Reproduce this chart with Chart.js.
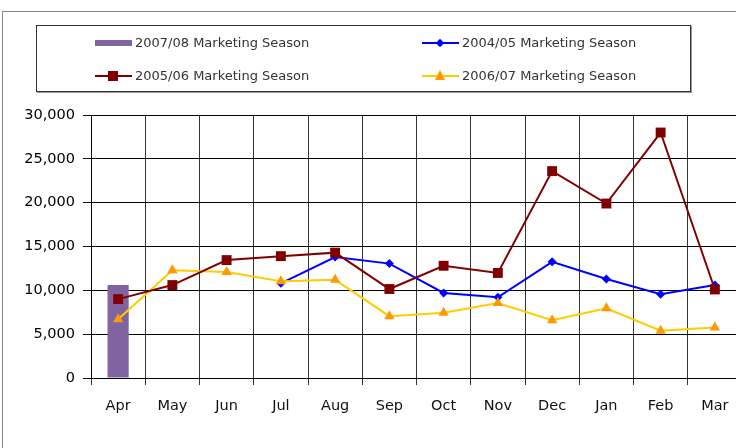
<!DOCTYPE html>
<html>
<head>
<meta charset="utf-8">
<script src="https://cdn.jsdelivr.net/npm/chart.js@4/dist/chart.umd.min.js"></script>
<style>
  html, body { margin: 0; padding: 0; width: 736px; height: 448px; overflow: hidden; background: #fff; }
  #frame { position: absolute; left: 2px; top: 11px; width: 800px; height: 500px; border: 1px solid #888; box-sizing: border-box; }
  #wrap { position: absolute; left: 0; top: 0; width: 760px; height: 448px; }
  #legend { position: absolute; left: 36px; top: 25px; width: 655px; height: 67px; border: 1px solid #333; box-sizing: border-box; box-shadow: 1px 1px 0 #999; background: #fff; font-family: "DejaVu Sans", sans-serif; font-size: 13px; color: #333; }
  .item { position: absolute; height: 16px; line-height: 16px; white-space: nowrap; }
  .sym { position: absolute; left: 0; top: 0; width: 37px; height: 16px; }
  .txt { position: absolute; left: 40px; top: 0; }
  .ln { position: absolute; left: 0; top: 7px; width: 37px; height: 2px; }
</style>
</head>
<body>
<div id="frame"></div>
<div id="wrap"><canvas id="c" width="760" height="448" style="width:760px;height:448px"></canvas></div>
<div id="legend"></div>
<script>
const months = ["Apr","May","Jun","Jul","Aug","Sep","Oct","Nov","Dec","Jan","Feb","Mar"];
const season0708 = [10600, null, null, null, null, null, null, null, null, null, null, null];
const season0405 = [null, null, null, 10800, 13800, 13050, 9700, 9200, 13250, 11300, 9550, 10600];
const season0506 = [9000, 10600, 13450, 13900, 14300, 10150, 12800, 11980, 23600, 19900, 28000, 10100];
const season0607 = [6700, 12300, 12100, 11050, 11200, 7050, 7450, 8550, 6600, 7950, 5400, 5750];
const yTicks = [0, 5000, 10000, 15000, 20000, 25000, 30000];
const seriesNames = ["2007/08 Marketing Season", "2004/05 Marketing Season", "2005/06 Marketing Season", "2006/07 Marketing Season"];

const tickFont = { family: "DejaVu Sans", size: 14.5 };

new Chart(document.getElementById('c'), {
  type: 'bar',
  data: {
    labels: months,
    datasets: [
      { type: 'bar', label: seriesNames[0], data: season0708, backgroundColor: '#8064A2', borderWidth: 0, barPercentage: 0.39, categoryPercentage: 1, order: 3 },
      { type: 'line', label: seriesNames[1], data: season0405, borderColor: '#0000FF', backgroundColor: '#0000FF', borderWidth: 2, pointStyle: 'rectRot', pointRadius: 4.5, pointBorderWidth: 0, spanGaps: false, order: 2 },
      { type: 'line', label: seriesNames[3], data: season0607, borderColor: '#FFCC00', backgroundColor: '#FF9900', pointBorderColor: '#FF9900', borderWidth: 2, pointStyle: 'triangle', pointRadius: 6, pointBorderWidth: 0, order: 1 },
      { type: 'line', label: seriesNames[2], data: season0506, borderColor: '#800000', backgroundColor: '#800000', borderWidth: 2, pointStyle: 'rect', pointRadius: 7, pointBorderWidth: 0, order: 0 }
    ]
  },
  options: {
    responsive: false,
    animation: false,
    devicePixelRatio: 1,
    layout: { padding: { left: 0, top: 115, right: 18, bottom: 0 } },
    plugins: { legend: { display: false }, tooltip: { enabled: false } },
    scales: {
      x: {
        offset: true,
        grid: { offset: true, color: '#333', lineWidth: 1, tickLength: 7, tickColor: '#333' },
        border: { color: '#000', width: 1 },
        ticks: { font: tickFont, color: '#111', padding: 13, maxRotation: 0 },
        afterFit: (s) => { s.height = 70; }
      },
      y: {
        min: 0, max: 30000,
        afterBuildTicks: (s) => { s.ticks = yTicks.map(v => ({ value: v })); },
        grid: { color: '#000', lineWidth: 1, tickLength: 8, tickColor: '#000' },
        border: { color: '#000', width: 1 },
        ticks: { font: tickFont, color: '#000', padding: 8, callback: (v) => Number(v).toLocaleString('en-US') },
        afterFit: (s) => { s.width = 91; }
      }
    }
  }
});

// HTML legend
const legend = document.getElementById('legend');
const items = [
  { name: seriesNames[0], x: 58, y: 9, kind: 'bar', color: '#8064A2' },
  { name: seriesNames[1], x: 385, y: 9, kind: 'diamond', color: '#0000FF' },
  { name: seriesNames[2], x: 58, y: 42, kind: 'square', color: '#800000' },
  { name: seriesNames[3], x: 385, y: 42, kind: 'triangle', color: '#FFCC00', marker: '#FF9900' }
];
items.forEach(it => {
  const d = document.createElement('div');
  d.className = 'item';
  d.style.left = it.x + 'px';
  d.style.top = it.y + 'px';
  let sym = '<div class="sym">';
  if (it.kind === 'bar') {
    sym += '<div style="position:absolute;left:0;top:5px;width:37px;height:6px;background:' + it.color + '"></div>';
  } else {
    sym += '<div class="ln" style="background:' + it.color + '"></div>';
    if (it.kind === 'diamond') sym += '<div style="position:absolute;left:15px;top:5px;width:6px;height:6px;background:' + it.color + ';transform:rotate(45deg);transform-origin:center"></div>';
    if (it.kind === 'square') sym += '<div style="position:absolute;left:13px;top:3px;width:10px;height:10px;background:' + it.color + '"></div>';
    if (it.kind === 'triangle') sym += '<div style="position:absolute;left:13px;top:2px;width:0;height:0;border-left:5px solid transparent;border-right:5px solid transparent;border-bottom:10px solid ' + it.marker + '"></div>';
  }
  sym += '</div>';
  d.innerHTML = sym + '<div class="txt">' + it.name + '</div>';
  legend.appendChild(d);
});
</script>
</body>
</html>
